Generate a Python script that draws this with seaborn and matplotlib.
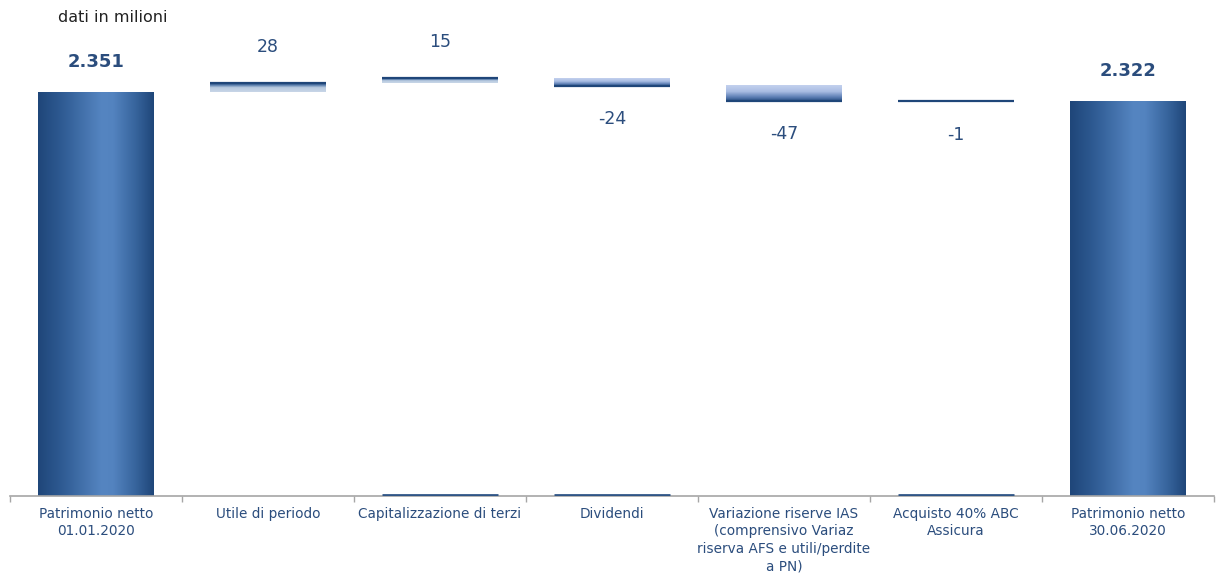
import numpy as np
import pandas as pd
import matplotlib
matplotlib.use("Agg")
import matplotlib.pyplot as plt
from matplotlib.colors import LinearSegmentedColormap
import seaborn as sns

# --- data (millions of euro) ---
categories = [
    "Patrimonio netto\n01.01.2020",
    "Utile di periodo",
    "Capitalizzazione di terzi",
    "Dividendi",
    "Variazione riserve IAS\n(comprensivo Variaz\nriserva AFS e utili/perdite\na PN)",
    "Acquisto 40% ABC\nAssicura",
    "Patrimonio netto\n30.06.2020",
]
opening = 2351
changes = [28, 15, -24, -47, -1]
closing = 2322
value_labels = ["2.351", "28", "15", "-24", "-47", "-1", "2.322"]

# waterfall geometry derived from the values
bottoms, heights, kinds = [0], [opening], ["total"]
running = opening
for c in changes:
    bottoms.append(min(running, running + c))
    heights.append(abs(c))
    kinds.append("up" if c > 0 else "down")
    running += c
bottoms.append(0)
heights.append(closing)
kinds.append("total")

df = pd.DataFrame({"voce": categories, "altezza": heights})

# --- style ---
sns.set_theme(style="white")
plt.rcParams["font.family"] = ["DejaVu Sans"]
DARK = "#1f4679"
TEXT = "#2b4d7d"
ymin, ymax = 1090, 2545

fig = plt.figure(figsize=(12.21, 5.75), dpi=100)
ax = fig.add_axes([10 / 1221, 79 / 575, 1204 / 1221, 466 / 575])

sns.barplot(data=df, x="voce", y="altezza", bottom=np.array(bottoms, float),
            width=0.67, color=DARK, errorbar=None, ax=ax, zorder=2)

cm_total = LinearSegmentedColormap.from_list(
    "tot", [(0, "#1f4679"), (0.2, "#2e5a92"), (0.55, "#5585c1"),
            (0.65, "#5383bf"), (0.85, "#36639b"), (1, "#1f4679")])
cm_up = LinearSegmentedColormap.from_list(
    "up", [(0, "#c8d6e7"), (0.5, "#b7c9df"), (0.75, "#5f83b0"), (1, "#1f4679")])
cm_down = LinearSegmentedColormap.from_list(
    "down", [(0, "#284d82"), (0.25, "#5d7fb5"), (0.6, "#a9bde3"), (1, "#c4d1ee")])

ramp = np.linspace(0, 1, 256)
patches = sorted(ax.patches, key=lambda p: p.get_x())
for p, kind in zip(patches, kinds):
    x0, y0, w, h = p.get_x(), p.get_y(), p.get_width(), p.get_height()
    p.set_facecolor("none")
    p.set_edgecolor("none")
    lo, hi = max(y0, ymin), min(y0 + h, ymax)
    if kind == "total":
        img, cmap = ramp[np.newaxis, :], cm_total
    else:
        img, cmap = ramp[:, np.newaxis], (cm_up if kind == "up" else cm_down)
    ax.imshow(img, extent=[x0, x0 + w, lo, hi], origin="lower",
              aspect="auto", cmap=cmap, zorder=2, interpolation="bilinear")
    if kind != "total":
        edge = y0 + h if kind == "up" else y0
        ax.hlines(edge, x0, x0 + w, color=DARK, lw=1.6, zorder=3)

ax.set_xlim(-0.5, len(categories) - 0.5)
ax.set_ylim(ymin, ymax)

# thin marks resting on the baseline under some of the floating steps
for i in (2, 3, 5):
    p = patches[i]
    ax.hlines(ymin + 2, p.get_x(), p.get_x() + p.get_width(),
              color="#2f5586", lw=2, zorder=3)

# value labels
for i, (p, kind, lab) in enumerate(zip(patches, kinds, value_labels)):
    top = p.get_y() + p.get_height()
    if kind == "total":
        ax.annotate(lab, (i, top), xytext=(0, 22), textcoords="offset points",
                    ha="center", va="center", fontsize=13, fontweight="bold",
                    color=TEXT, zorder=5)
    elif kind == "up":
        ax.annotate(lab, (i, top), xytext=(0, 26), textcoords="offset points",
                    ha="center", va="center", fontsize=12.5, color=TEXT)
    else:
        ax.annotate(lab, (i, p.get_y()), xytext=(0, -24), textcoords="offset points",
                    ha="center", va="center", fontsize=12.5, color=TEXT)

# axes decoration
for s in ("top", "right", "left"):
    ax.spines[s].set_visible(False)
ax.spines["bottom"].set_color("#a6a6a6")
ax.spines["bottom"].set_linewidth(1.2)
ax.set_yticks([])
ax.set_xlabel("")
ax.set_ylabel("")
ax.set_xticks(np.arange(len(categories)))
ax.set_xticklabels(categories, fontsize=9.8, color=TEXT, linespacing=1.3)
ax.tick_params(axis="x", which="major", length=0, pad=8)
ax.set_xticks(np.arange(-0.5, len(categories)), minor=True)
ax.tick_params(axis="x", which="minor", length=4, width=1, color="#a6a6a6",
               direction="out", bottom=True)

fig.text(58 / 1221, 1 - 18 / 575, "dati in milioni", fontsize=11.5,
         color="#222222", ha="left", va="center")

fig.savefig("out.png", dpi=100)
